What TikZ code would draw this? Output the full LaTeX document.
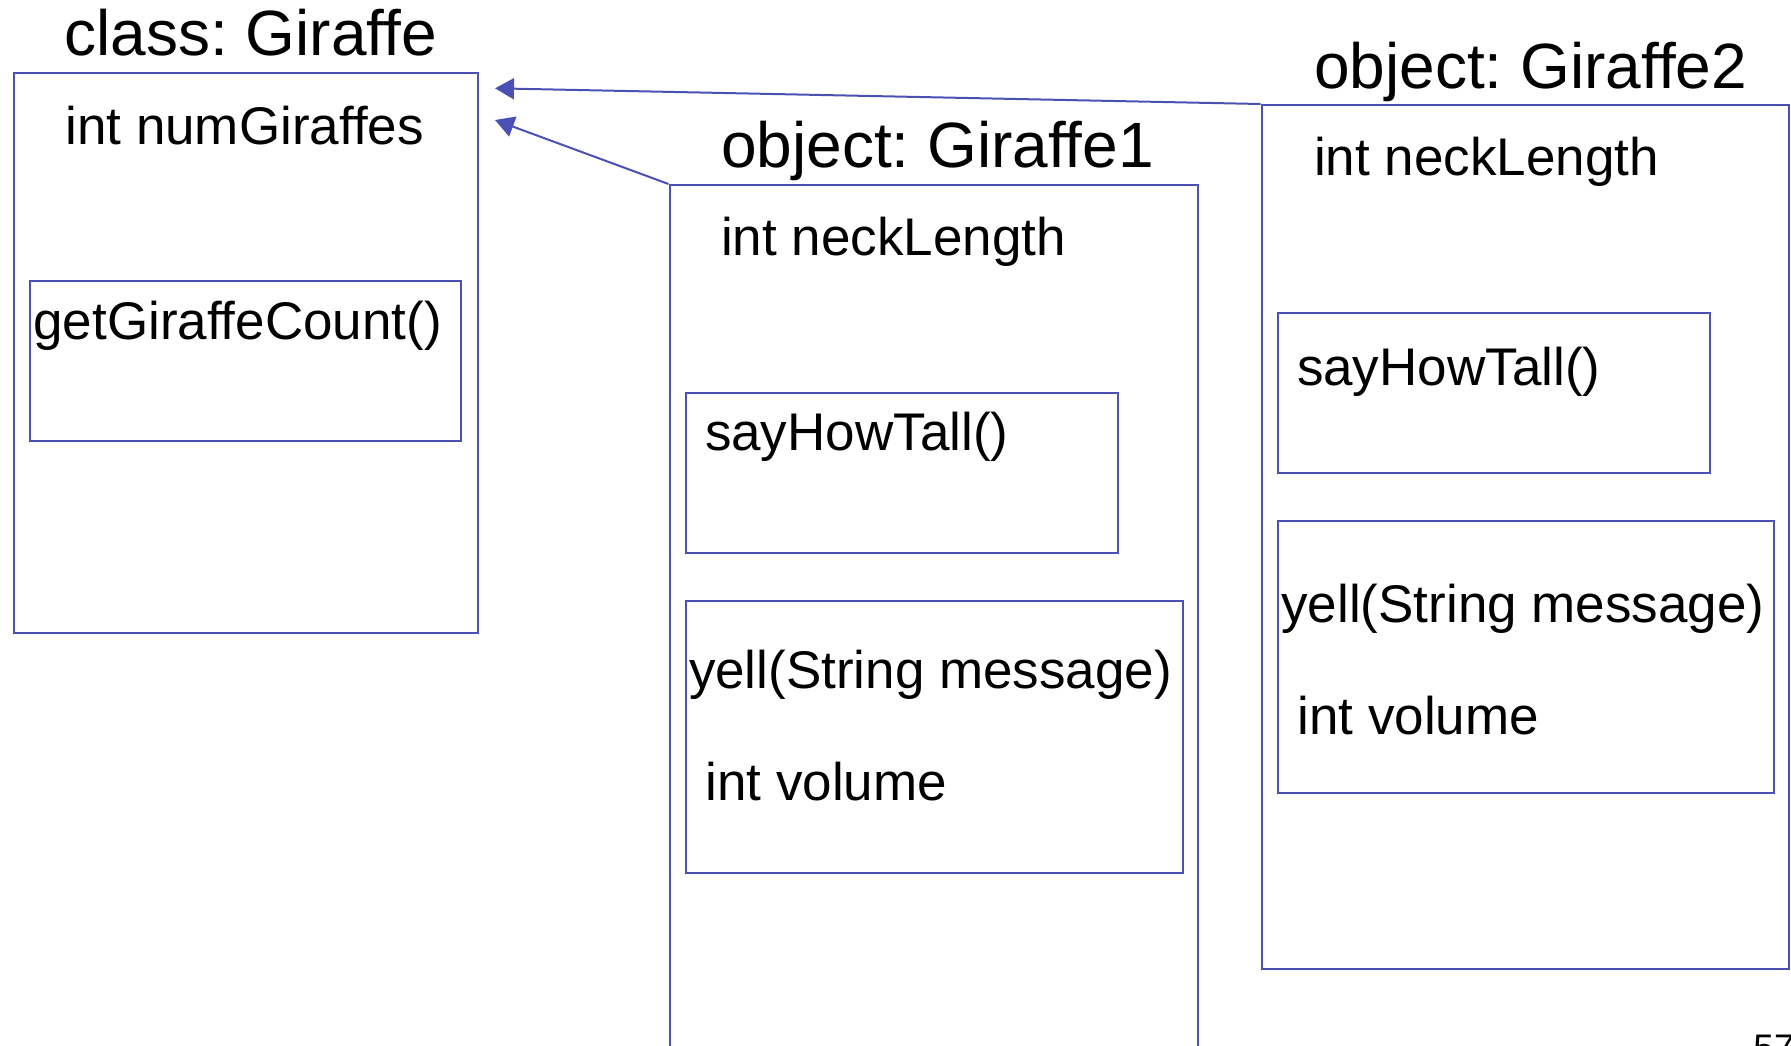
\documentclass[tikz,border=0pt]{standalone}
\usepackage{fontspec}
\setmainfont{Liberation Sans}
\usetikzlibrary{arrows.meta}
\definecolor{BoxBlue}{HTML}{4B50B4}
\frenchspacing

\begin{document}
\begin{tikzpicture}[x=0.5pt,y=-0.5pt,
    box/.style={draw=BoxBlue,line width=1pt,inner sep=0pt,anchor=north west},
    title/.style={inner sep=0pt,anchor=base west,font=\fontsize{32}{38}\selectfont},
    member/.style={inner sep=0pt,anchor=base west,font=\fontsize{26.5}{32}\selectfont},
    link/.style={BoxBlue,line width=1pt,-{Triangle[length=9.5pt,width=10.5pt]}}]
  \useasboundingbox (0,0) rectangle (1791,1045);
  % class: Giraffe
  \node[box,minimum width=232pt,minimum height=280pt] (cls) at (13,72) {};
  \node[title] (clstitle) at (64,55) {class: Giraffe};
  \node[member] (clsvar) at (65,144) {int numGiraffes};
  \node[box,minimum width=215.5pt,minimum height=80pt] (clscount) at (29,280) {};
  \node[member] (clscounttxt) at (33,339) {getGiraffeCount()};
  % object: Giraffe1
  \node[box,minimum width=264.25pt,minimum height=458pt] (gone) at (668.5,184) {};
  \node[title] (gonetitle) at (720.7,167) {object: Giraffe1};
  \node[member] (gonevar) at (720.7,255) {int neckLength};
  \node[box,minimum width=216pt,minimum height=80pt] (gonetall) at (685,392) {};
  \node[member] (gonetalltxt) at (704.6,450) {sayHowTall()};
  \node[box,minimum width=248.25pt,minimum height=136pt] (goneyell) at (685,600) {};
  \node[member] (goneyelltxt) at (688.6,688.5) {yell(String message)};
  \node[member] (gonevol) at (705,800) {int volume};
  % object: Giraffe2
  \node[box,minimum width=263.75pt,minimum height=431.75pt] (gtwo) at (1260.5,104) {};
  \node[title] (gtwotitle) at (1313.8,88.3) {object: Giraffe2};
  \node[member] (gtwovar) at (1313.8,175) {int neckLength};
  \node[box,minimum width=216pt,minimum height=80pt] (gtwotall) at (1277,312) {};
  \node[member] (gtwotalltxt) at (1296.6,385.5) {sayHowTall()};
  \node[box,minimum width=248pt,minimum height=136pt] (gtwoyell) at (1277,520) {};
  \node[member] (gtwoyelltxt) at (1281,622.5) {yell(String message)};
  \node[member] (gtwovol) at (1297,734) {int volume};
  % links back to the class
  \coordinate (tipone) at (495,120);
  \coordinate (tiptwo) at (495,88.3);
  \draw[link] (gone.north west) -- (tipone);
  \draw[link] (gtwo.north west) -- (tiptwo);
  % page number
  \node[inner sep=0pt,anchor=base west,font=\fontsize{18.5}{22}\selectfont] (pagenum) at (1753,1060) {57};
\end{tikzpicture}
\end{document}
